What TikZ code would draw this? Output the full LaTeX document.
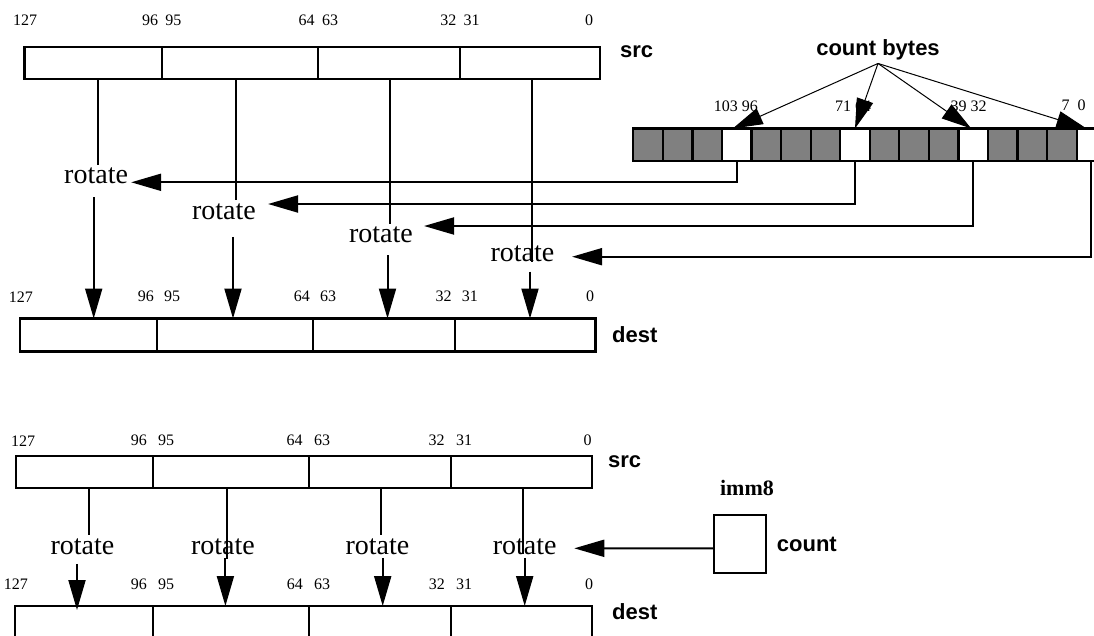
\documentclass[tikz,border=0pt]{standalone}
\usepackage{fontspec}
\setmainfont{Liberation Serif}
\newfontfamily\arialfont{Liberation Sans}
\usetikzlibrary{arrows.meta}
\newcommand\numfont{\fontsize{16}{18}\selectfont}
\newcommand\rotfont{\fontsize{28}{32}\selectfont}
\newcommand\lblfont{\arialfont\bfseries\fontsize{22}{26}\selectfont}
\newcommand\immfont{\bfseries\fontsize{22}{26}\selectfont}
\tikzset{
  reg/.style={draw, line width=2.2pt, minimum height=32.3pt, inner sep=0pt, outer sep=0pt, anchor=north west},
  byte/.style={draw, fill=gray, line width=2.2pt, minimum width=29.56pt, minimum height=32.2pt, inner sep=0pt, outer sep=0pt, anchor=north west},
  bitnum/.style={font=\numfont, inner sep=0pt},
  rot/.style={font=\rotfont, inner xsep=3pt, inner ysep=3pt},
  lbl/.style={font=\lblfont, inner sep=0pt, anchor=west},
  conn/.style={line width=2pt},
  arr/.style={conn, -{Triangle[length=30pt, width=17pt]}},
  fan/.style={line width=1pt, -{Triangle[length=30pt, width=17pt]}}
}

\begin{document}
\begin{tikzpicture}[x=1pt,y=-1pt]
\useasboundingbox (0,0) rectangle (1094,635);

% upper part: registers
\foreach \n/\x/\w in {1/24.5/137.2, 2/161.7/156.6, 3/318.3/141.7, 4/460/140}
  \node[reg, minimum width=\w*1pt] (tsrc\n) at (\x,46.7) {};
\foreach \n/\x/\w in {1/19.8/137.2, 2/157/156, 3/313/141.7, 4/454.7/140.8}
  \node[reg, minimum width=\w*1pt, minimum height=33pt] (tdst\n) at (\x,318.5) {};
\node[lbl] (tsrcl) at (620,52) {src};
\node[lbl] (tdstl) at (612,335) {dest};

% upper part: bit numbers
\node[bitnum] (ts127) at (25,20.7) {127};
\foreach \hi/\lo/\x in {96/95/161.7, 64/63/318.3, 32/31/460} {
  \node[bitnum, anchor=east] (ts\hi) at (\x-3.5,20.7) {\hi};
  \node[bitnum, anchor=west] (ts\lo) at (\x+3.5,20.7) {\lo};
}
\node[bitnum] (ts0) at (589,20.7) {0};
\node[bitnum] (td127) at (21,296.7) {127};
\foreach \hi/\lo/\x in {96/95/157, 64/63/313, 32/31/454.7} {
  \node[bitnum, anchor=east] (td\hi) at (\x-3,296.7) {\hi};
  \node[bitnum, anchor=west] (td\lo) at (\x+7,296.7) {\lo};
}
\node[bitnum] (td0) at (590,296.7) {0};

% count bytes
\foreach \i in {0,...,15} {
  \pgfmathtruncatemacro\m{mod(\i,4)}
  \ifnum\m=3
    \node[byte, fill=white] (b\i) at (633.3+29.56*\i,128.5) {};
  \else
    \node[byte] (b\i) at (633.3+29.56*\i,128.5) {};
  \fi
}
\node[bitnum] (bl1) at (735.8,106.7) {103 96};
\node[bitnum] (bl2) at (853,106.7) {71 64};
\node[bitnum] (bl3) at (968.5,106.7) {39 32};
\node[bitnum] (bl4) at (1073.7,105) {7\enspace 0};
\node[lbl, anchor=center, inner sep=3pt] (cb) at (878,50) {count bytes};
\draw[fan] (cb.south) -- ([xshift=-4pt]b3.north);
\draw[fan] (cb.south) -- (b7.north);
\draw[fan] (cb.south) -- ([xshift=-2pt]b11.north);
\draw[fan] (cb.south) -- ([xshift=-5pt]b15.north);

% upper part: rotate
\node[rot] (r1) at (96.1,176) {rotate};
\node[rot] (r2) at (224,211.7) {rotate};
\node[rot] (r3) at (381,235) {rotate};
\node[rot] (r4) at (522.5,254) {rotate};
\draw[conn] ([xshift=1.6pt]r1.north |- tsrc1.south) -- ([xshift=1.6pt]r1.north);
\draw[conn] ([xshift=12pt]r2.north |- tsrc2.south) -- ([xshift=12pt]r2.north);
\draw[conn] ([xshift=9pt]r3.north |- tsrc3.south) -- ([xshift=9pt]r3.north);
\draw[conn] ([xshift=9.5pt]r4.north |- tsrc4.south) -- ([xshift=9.5pt,yshift=-7.7pt]r4.center);
\draw[arr] ([xshift=-2.4pt,yshift=-10pt]r1.south) -- ([xshift=-2.4pt]r1.south |- tdst1.north);
\draw[arr] ([xshift=9pt,yshift=-14pt]r2.south) -- ([xshift=9pt]r2.south |- tdst2.north);
\draw[arr] ([xshift=6.5pt,yshift=-9pt]r3.south) -- ([xshift=6.5pt]r3.south |- tdst3.north);
\draw[arr] ([xshift=7.5pt,yshift=-6.5pt]r4.south) -- ([xshift=7.5pt]r4.south |- tdst4.north);
\draw[arr] (b3.south) |- ([yshift=-6.3pt]r1.east);
\draw[arr] (b7.south) |- ([xshift=9pt,yshift=7.7pt]r2.east);
\draw[arr] (b11.south) |- ([xshift=8pt,yshift=9pt]r3.east);
\draw[arr] (b15.south) |- ([xshift=14.5pt,yshift=-2.7pt]r4.east);

% lower part: registers
\foreach \n/\x/\w in {1/15.8/137.2, 2/153/155.8, 3/308.8/142, 4/450.8/141.2}
  \node[reg, minimum width=\w*1pt] (bsrc\n) at (\x,456) {};
\foreach \n/\x/\w in {1/15/138, 2/153/156, 3/309/142, 4/451/141}
  \node[reg, minimum width=\w*1pt, minimum height=34pt] (bdst\n) at (\x,606) {};
\node[lbl] (bsrcl) at (608,462) {src};
\node[lbl] (bdstl) at (612,612) {dest};

% lower part: bit numbers
\node[bitnum] (bs127) at (23,440.7) {127};
\foreach \hi/\lo/\x in {96/95/153, 64/63/308.8, 32/31/450.8} {
  \node[bitnum, anchor=east] (bs\hi) at (\x-6,440.7) {\hi};
  \node[bitnum, anchor=west] (bs\lo) at (\x+5,440.7) {\lo};
}
\node[bitnum] (bs0) at (587.5,440.7) {0};
\node[bitnum] (bd127) at (16,584) {127};
\foreach \hi/\lo/\x in {96/95/153, 64/63/309, 32/31/451} {
  \node[bitnum, anchor=east] (bd\hi) at (\x-6,584) {\hi};
  \node[bitnum, anchor=west] (bd\lo) at (\x+5,584) {\lo};
}
\node[bitnum] (bd0) at (589,584) {0};

% lower part: rotate by imm8
\node[rot] (q1) at (82.5,546.7) {rotate};
\node[rot] (q2) at (223,546.7) {rotate};
\node[rot] (q3) at (377.5,546.7) {rotate};
\node[rot] (q4) at (524.7,546.7) {rotate};
\draw[conn] ([xshift=6.5pt]q1.north |- bsrc1.south) -- ([xshift=6.5pt]q1.north);
\draw[conn] ([xshift=4.4pt]q2.north |- bsrc2.south) -- ([xshift=4.4pt,yshift=-12pt]q2.center);
\draw[conn] ([xshift=3.3pt]q3.north |- bsrc3.south) -- ([xshift=3.3pt]q3.north);
\draw[conn] ([xshift=-2pt]q4.north |- bsrc4.south) -- ([xshift=-2pt,yshift=-7pt]q4.center);
\draw[arr] ([xshift=-5.5pt,yshift=-6pt]q1.south) -- ([xshift=-5.5pt,yshift=-4pt]q1.south |- bdst1.north);
\draw[arr] ([xshift=2.4pt]q2.south) -- ([xshift=2.4pt]q2.south |- bdst2.north);
\draw[arr] ([xshift=5.2pt]q3.south) -- ([xshift=5.2pt]q3.south |- bdst3.north);
\draw[arr] (q4.south) -- (q4.south |- bdst4.north);

\node[draw, line width=2.2pt, minimum width=52pt, minimum height=57.7pt] (cnt) at (740,543.9) {};
\node[font=\immfont, inner sep=0pt] (imm) at (747,488) {imm8};
\node[lbl] (cntl) at (776.7,544) {count};
\draw[arr] ([yshift=-4.4pt]cnt.west) -- ([xshift=14.5pt,yshift=-1.6pt]q4.east);
\end{tikzpicture}
\end{document}
